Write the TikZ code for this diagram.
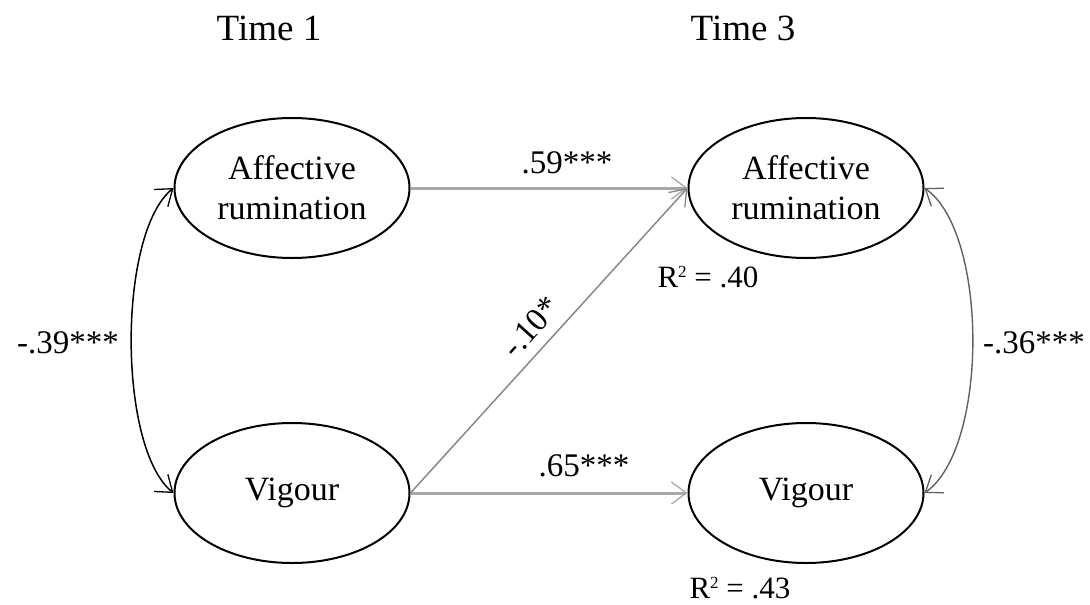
\documentclass[tikz,border=0pt]{standalone}
\usepackage{fontspec}
\setmainfont{Liberation Serif}
\usetikzlibrary{shapes.geometric,arrows.meta}
\definecolor{lightline}{HTML}{A8A8A8}
\definecolor{midline}{HTML}{888888}
\definecolor{darkline}{HTML}{606060}
\newcommand{\rsq}{R\raisebox{9.5pt}{\fontsize{17}{17}\selectfont 2}}
\tikzset{
  latent/.style={draw=black, line width=2pt, ellipse, minimum width=235pt, minimum height=140pt, inner sep=0pt, align=center, font=\fontsize{34}{40}\selectfont},
  lbl/.style={font=\fontsize{33}{38}\selectfont, inner sep=0pt},
  rlbl/.style={font=\fontsize{31}{36}\selectfont, inner sep=0pt},
  timelbl/.style={font=\fontsize{37}{42}\selectfont, inner sep=0pt},
  barb/.style={-{Straight Barb[length=15pt,width=22pt,line width=1.3pt]}},
  dbarb/.style={{Straight Barb[length=15pt,width=22pt,line width=1.3pt]}-{Straight Barb[length=15pt,width=22pt,line width=1.3pt]}},
  path1/.style={barb, draw=lightline, line width=3pt},
  path2/.style={barb, draw=midline, line width=1.5pt},
}
\begin{document}
\begin{tikzpicture}[x=1pt,y=-1pt]
\useasboundingbox (0,0) rectangle (1090,605);
\node[timelbl] (t1) at (269,28) {Time 1};
\node[timelbl] (t3) at (743,28) {Time 3};
\node[latent] (a1) at (292,188) {Affective\\rumination};
\node[latent] (v1) at (292,493) {Vigour};
\node[latent] (a3) at (806,188) {Affective\\rumination};
\node[latent] (v3) at (806,493) {Vigour};
\draw[path1] (a1.east) -- (a3.west);
\draw[path1] (v1.east) -- (v3.west);
\draw[path2] (v1.east) -- (a3.west);
\draw[dbarb, draw=black, line width=1.5pt] (a1.west) .. controls +(-56,45) and +(-56,-45) .. (v1.west);
\draw[dbarb, draw=darkline, line width=1.4pt] (a3.east) .. controls +(64,45) and +(64,-45) .. (v3.east);
\node[lbl, anchor=base] (l59) at (567,173) {.59***};
\node[lbl, anchor=base] (l65) at (584,476) {.65***};
\node[lbl, rotate=48] (l10) at (531,327) {-.10*};
\node[rlbl, anchor=base] (r40) at (708,287) {\rsq{} = .40};
\node[rlbl, anchor=base] (r43) at (740,598) {\rsq{} = .43};
\node[lbl, anchor=base west] (l39) at (17,353) {-.39***};
\node[lbl, anchor=base west] (l36) at (983,353) {-.36***};
\end{tikzpicture}
\end{document}
